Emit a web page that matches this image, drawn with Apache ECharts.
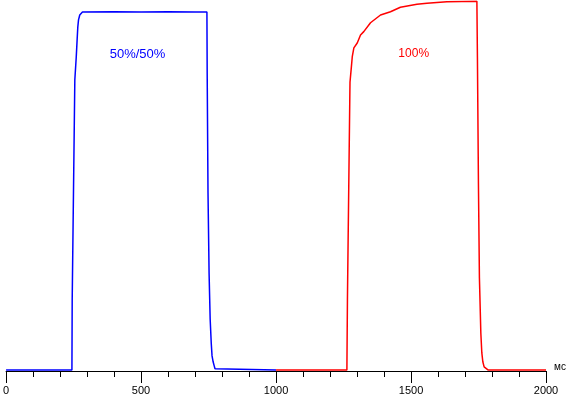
<!DOCTYPE html>
<html>
<head>
<meta charset="utf-8">
<script src="https://cdn.jsdelivr.net/npm/echarts@6/dist/echarts.min.js"></script>
<style>
html,body{margin:0;padding:0;background:#fff;}
#chart{width:569px;height:397px;}
</style>
</head>
<body>
<div id="chart"></div>
<script>
// time, ms
const blueTimes  = [0, 244, 245, 254.7, 260, 263.6, 265.8, 268.4, 273, 277, 283, 400, 500, 600, 700, 744, 745, 748, 752, 756, 760, 763, 767, 771, 774, 781, 1000];
const blueValues = [0, 0,   19,  78.6,  84.8, 90,  93,    94.9,  96.2, 96.7, 97, 97.1, 97, 97.1, 97, 97, 80.5, 48.2, 26.3, 13.8, 7.3, 3.8, 2.2, 1.1, 0.3, 0, 0];

const redTimes  = [1000, 1262.5, 1264.5, 1273.6, 1274, 1278.7, 1282.4, 1288.3, 1300.8, 1313, 1325, 1350, 1387, 1424, 1460.7, 1522, 1559, 1633, 1744, 1746, 1749.7, 1753.4, 1758.6, 1762.3, 1766, 1770.8, 1778, 1785, 2000];
const redValues = [0,    0,      19,     75.9,   78,   81.8,   84.9,   87.3,   88.6,   90.8, 91.7, 94.1, 96.2, 97.1, 98.3,   99.1, 99.4, 99.8, 99.9, 84.6, 50.7,   24.9,   10,     4.6,    2.2,  0.8,    0.3,  0,    0];

const xTickLabels = ['0', '500', '1000', '1500', '2000'];
const unitLabel = 'мс';
const blueLabel = '50%/50%';
const redLabel = '100%';

const chart = echarts.init(document.getElementById('chart'), null, {renderer: 'canvas'});
const FONT = 'Arial, "Liberation Sans", sans-serif';

chart.setOption({
  animation: false,
  backgroundColor: '#ffffff',
  grid: {left: 4, right: 23, top: 1, bottom: 26, containLabel: false},
  xAxis: {
    type: 'value', min: 0, max: 2000, interval: 500,
    axisLine: {show: true, onZero: false, lineStyle: {color: '#000', width: 1}},
    axisTick: {show: true, length: 12, lineStyle: {color: '#000', width: 1}},
    minorTick: {show: true, splitNumber: 5, length: 6, lineStyle: {color: '#000', width: 1}},
    splitLine: {show: false},
    axisLabel: {
      color: '#000', fontSize: 11, fontFamily: FONT, margin: 14,
      showMinLabel: true, showMaxLabel: true,
      formatter: function (v) { const i = xTickLabels.indexOf(String(v)); return i >= 0 ? xTickLabels[i] : ''; }
    }
  },
  yAxis: {type: 'value', min: -0.3, max: 100, show: false, splitLine: {show: false}},
  series: [
    {type: 'line', data: blueTimes.map((t, i) => [t, blueValues[i]]), showSymbol: false, symbol: 'none',
     lineStyle: {color: '#0000ff', width: 1.5}, itemStyle: {color: '#0000ff'}, z: 3},
    {type: 'line', data: redTimes.map((t, i) => [t, redValues[i]]), showSymbol: false, symbol: 'none',
     lineStyle: {color: '#ff0000', width: 1.5}, itemStyle: {color: '#ff0000'}, z: 3}
  ],
  graphic: [
    {type: 'text', x: 137.5, y: 54, style: {text: blueLabel, fill: '#0000ff', font: '13px ' + FONT, textAlign: 'center', textVerticalAlign: 'middle'}},
    {type: 'text', x: 413.7, y: 54, style: {text: redLabel, fill: '#ff0000', font: '12px ' + FONT, textAlign: 'center', textVerticalAlign: 'middle'}},
    {type: 'text', x: 554, y: 367.5, style: {text: unitLabel, fill: '#000', font: '10px ' + FONT, textAlign: 'left', textVerticalAlign: 'middle'}}
  ]
});
</script>
</body>
</html>
